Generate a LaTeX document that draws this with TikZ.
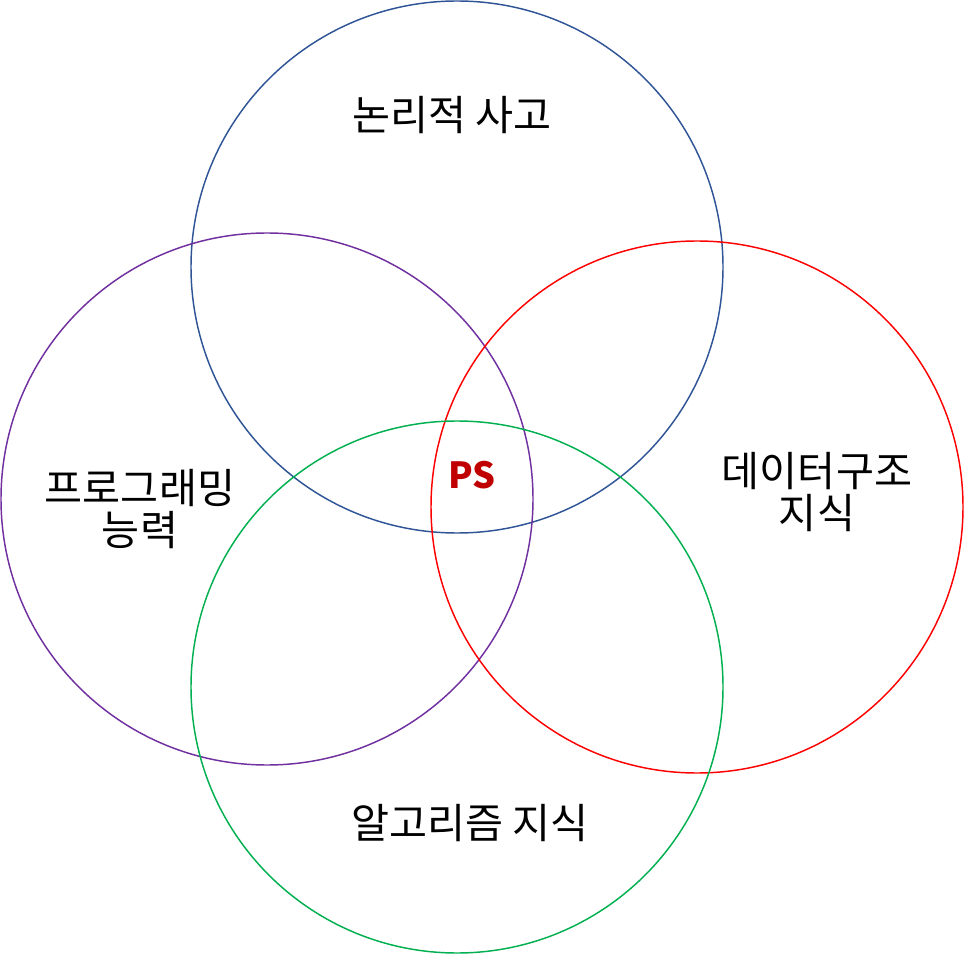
\documentclass[tikz,border=0pt]{standalone}
\usepackage{fontspec}
\setmainfont{Noto Sans CJK KR}
\definecolor{logicblue}{HTML}{2F5597}
\definecolor{progpurple}{HTML}{7030A0}
\definecolor{algogreen}{HTML}{00B050}
\definecolor{psred}{HTML}{C00000}
\tikzset{
  area/.style={line width=1.1pt},
  label/.style={font=\fontsize{31}{32}\selectfont, align=center}
}
\begin{document}
\begin{tikzpicture}[x=0.75pt,y=-0.75pt]
\useasboundingbox (0,0) rectangle (964,955);
\draw[area, logicblue] (457,267) circle (266);
\draw[area, progpurple] (267,499) circle (266);
\draw[area, red] (697,507) circle (266);
\draw[area, algogreen] (457,687) circle (266);
\node[label] (logic) at (452,115) {논리적 사고};
\node[label] (prog) at (140,509) {프로그래밍\\능력};
\node[label] (data) at (817,492) {데이터구조\\지식};
\node[label] (algo) at (470,823) {알고리즘 지식};
\node[label, font=\fontsize{27}{31}\selectfont\bfseries, text=psred] (ps) at (472,475) {PS};
\end{tikzpicture}
\end{document}
